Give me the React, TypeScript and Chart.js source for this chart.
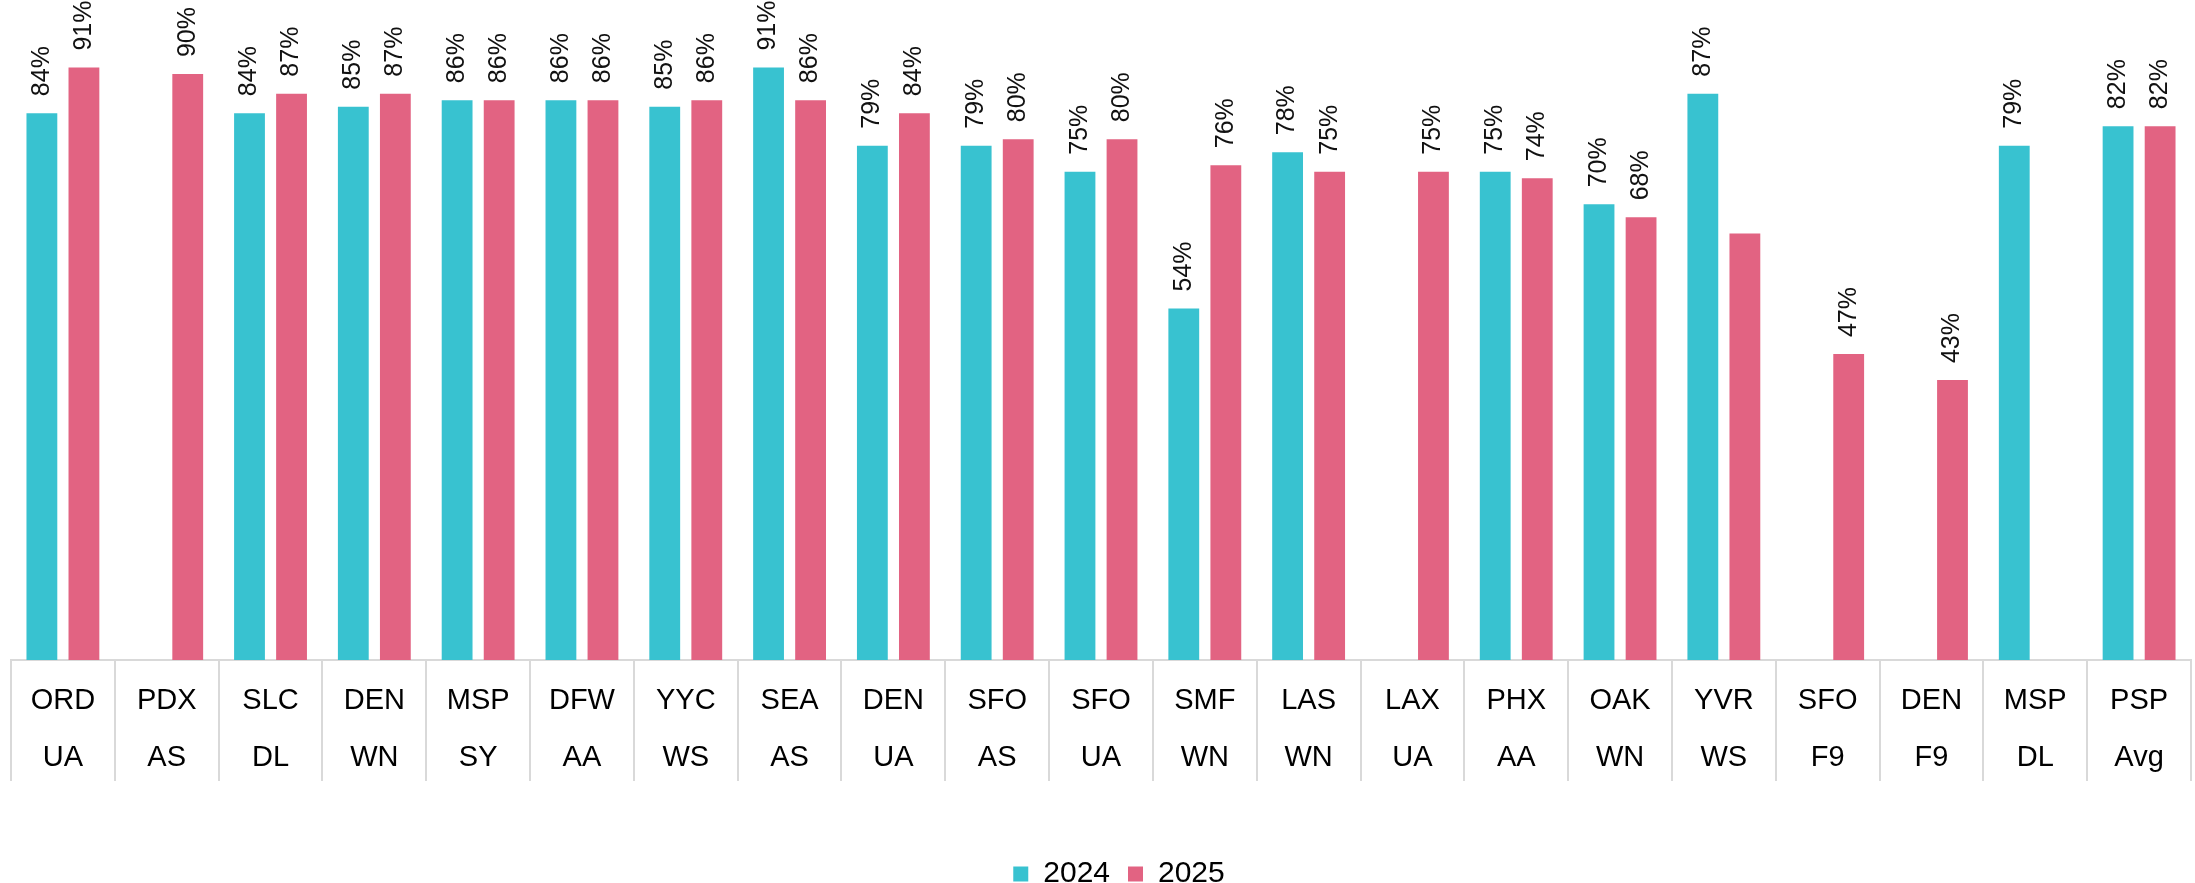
import React, { useEffect, useRef } from 'react';
import { Chart, registerables } from 'chart.js';

Chart.register(...registerables);

const airports = ['ORD', 'PDX', 'SLC', 'DEN', 'MSP', 'DFW', 'YYC', 'SEA', 'DEN', 'SFO', 'SFO', 'SMF', 'LAS', 'LAX', 'PHX', 'OAK', 'YVR', 'SFO', 'DEN', 'MSP', 'PSP'];
const airlines = ['UA', 'AS', 'DL', 'WN', 'SY', 'AA', 'WS', 'AS', 'UA', 'AS', 'UA', 'WN', 'WN', 'UA', 'AA', 'WN', 'WS', 'F9', 'F9', 'DL', 'Avg'];
const values2024: (number | null)[] = [84, null, 84, 85, 86, 86, 85, 91, 79, 79, 75, 54, 78, null, 75, 70, 87, null, null, 79, 82];
const values2025: (number | null)[] = [91, 90, 87, 87, 86, 86, 86, 86, 84, 80, 80, 76, 75, 75, 74, 68, 65.5, 47, 43, null, 82];
const unlabeled2024: number[] = [];
const unlabeled2025: number[] = [16];

const COLOR_2024 = '#38C2D0';
const COLOR_2025 = '#E26382';
const FONT = '"Liberation Sans", Arial, sans-serif';

const dataLabelPlugin = {
  id: 'verticalDataLabels',
  afterLayout(chart: any) {
    const lg = chart.legend;
    if (lg) { lg.left += 18; lg.right += 18; }
  },
  afterDatasetsDraw(chart: any) {
    const ctx = chart.ctx;
    const hidden = [unlabeled2024, unlabeled2025];
    chart.data.datasets.forEach((ds: any, di: number) => {
      const meta = chart.getDatasetMeta(di);
      meta.data.forEach((bar: any, i: number) => {
        const v = ds.data[i];
        if (v == null || hidden[di].includes(i)) return;
        ctx.save();
        ctx.translate(bar.x, bar.y - 17);
        ctx.rotate(-Math.PI / 2);
        ctx.font = `25px ${FONT}`;
        ctx.fillStyle = '#111';
        ctx.textAlign = 'left';
        ctx.textBaseline = 'middle';
        ctx.fillText(`${Math.round(v)}%`, 0, 0);
        ctx.restore();
      });
    });
  },
};

export default function App() {
  const ref = useRef<HTMLCanvasElement>(null);
  useEffect(() => {
    if (!ref.current) return;
    const chart = new Chart(ref.current, {
      type: 'bar',
      data: {
        labels: airports.map((a, i) => [a, airlines[i]]),
        datasets: [
          { label: '2024', data: values2024, backgroundColor: COLOR_2024, categoryPercentage: 0.81, barPercentage: 0.733 },
          { label: '2025', data: values2025, backgroundColor: COLOR_2025, categoryPercentage: 0.81, barPercentage: 0.733 },
        ],
      },
      options: {
        animation: false,
        responsive: true,
        maintainAspectRatio: false,
        layout: { padding: { left: 11, right: 4, top: 9, bottom: -16 } },
        scales: {
          x: {
            grid: { display: true, drawOnChartArea: false, drawTicks: true, tickLength: 121, color: '#d9d9d9', lineWidth: 2, offset: true },
            border: { display: true, color: '#d9d9d9', width: 2 },
            ticks: { font: { size: 29, family: FONT, lineHeight: 1.95 }, color: '#000', padding: -108, autoSkip: false, maxRotation: 0 },
            afterFit: (s: any) => { s.height = 181; },
          },
          y: { display: false, min: 0, max: 100 },
        },
        plugins: {
          legend: {
            position: 'bottom',
            labels: { boxWidth: 15, boxHeight: 15, padding: 18, color: '#000', font: { size: 30, family: FONT } },
          },
          tooltip: { enabled: false },
        },
      },
      plugins: [dataLabelPlugin],
    });
    return () => chart.destroy();
  }, []);
  return (
    <div style={{ position: 'fixed', left: 0, top: 0, width: 2195, height: 883, background: '#fff' }}>
      <canvas ref={ref} />
    </div>
  );
}
